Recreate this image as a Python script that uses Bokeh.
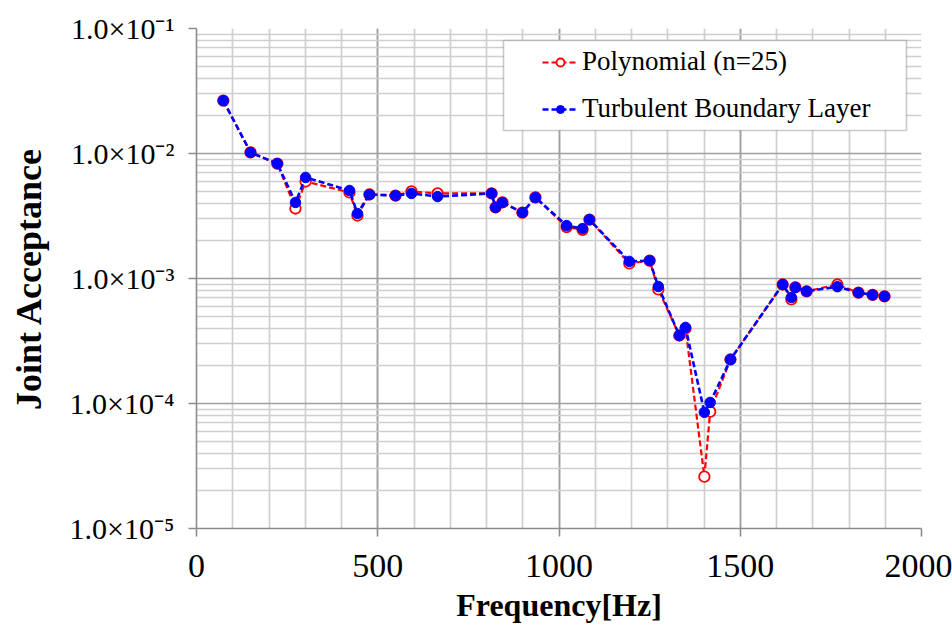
from bokeh.plotting import figure
from bokeh.models import (Range1d, FixedTicker, CustomJSTickFormatter, Legend,
                          LegendItem, BoxAnnotation)
from bokeh.embed import file_html
from bokeh.resources import INLINE

# ---- data ----
freq = [74, 149, 223, 273, 301, 422, 444, 477, 549, 593, 665, 814, 825, 844,
        899, 935, 1021, 1065, 1084, 1194, 1250, 1274, 1332, 1349, 1401, 1417,
        1473, 1617, 1641, 1652, 1683, 1768, 1826, 1865, 1898]
poly = [0.0265, 0.0102, 0.0083, 0.00363, 0.00597, 0.00488, 0.00319, 0.0047,
        0.00461, 0.00497, 0.00479, 0.00479, 0.0037, 0.00406, 0.00337, 0.00445,
        0.00258, 0.00245, 0.00296, 0.00132, 0.00139, 0.000817, 0.00035,
        0.000398, 2.6e-5, 8.6e-5, 2.25e-4, 8.95e-4, 6.8e-4, 8.5e-4, 7.9e-4,
        8.95e-4, 7.7e-4, 7.4e-4, 7.2e-4]
tbl = [0.0265, 0.0102, 0.0083, 0.00406, 0.00643, 0.00506, 0.00331, 0.0047,
       0.00461, 0.00479, 0.00453, 0.00479, 0.0037, 0.00406, 0.00337, 0.00445,
       0.00265, 0.00251, 0.00296, 0.00137, 0.00139, 0.000863, 0.00035,
       0.000406, 8.5e-5, 1.02e-4, 2.25e-4, 8.95e-4, 7.05e-4, 8.5e-4, 7.9e-4,
       8.6e-4, 7.7e-4, 7.4e-4, 7.2e-4]
series_names = ["Polynomial (n=25)", "Turbulent Boundary Layer"]
x_ticks = [0, 500, 1000, 1500, 2000]
x_minor = list(range(0, 2001, 100))
y_ticks = [1e-5, 1e-4, 1e-3, 1e-2, 1e-1]
y_minor = [k * 10.0 ** e for e in range(-5, -1) for k in range(2, 10)]

FONT = "Liberation Serif"

p = figure(width=952, height=627, output_backend="svg", toolbar_location=None,
           x_range=Range1d(0, 2000), y_range=Range1d(1e-5, 1e-1),
           y_axis_type="log", min_border_left=196, min_border_right=31,
           min_border_top=28, min_border_bottom=99)
p.outline_line_color = None
p.background_fill_color = "white"
p.border_fill_color = "white"

xt = FixedTicker(ticks=x_ticks, minor_ticks=x_minor)
yt = FixedTicker(ticks=y_ticks, minor_ticks=y_minor)
p.xaxis.ticker = xt
p.yaxis.ticker = yt
p.xgrid.ticker = xt
p.ygrid.ticker = yt

for g in (p.xgrid, p.ygrid):
    g.grid_line_color = "#a0a0a0"
    g.grid_line_width = 1.7
    g.minor_grid_line_color = "#cfcfcf"
    g.minor_grid_line_width = 1.7

p.yaxis.formatter = CustomJSTickFormatter(code="""
const e = Math.round(Math.log10(tick));
const sup = {'-':'\u207b','0':'\u2070','1':'\u00b9','2':'\u00b2','3':'\u00b3','4':'\u2074','5':'\u2075','6':'\u2076','7':'\u2077','8':'\u2078','9':'\u2079'};
return '1.0\u00d710' + String(e).split('').map(c => sup[c]).join('');
""")

for ax in (p.xaxis, p.yaxis):
    ax.axis_line_color = "#8c8c8c"
    ax.axis_line_width = 1.6
    ax.major_tick_line_color = "#8c8c8c"
    ax.major_tick_line_width = 1.6
    ax.major_tick_out = 8
    ax.major_tick_in = 0
    ax.minor_tick_out = 0
    ax.minor_tick_in = 0
    ax.major_label_text_font = FONT
    ax.major_label_text_color = "black"
    ax.axis_label_text_font = FONT
    ax.axis_label_text_font_style = "bold"
    ax.axis_label_text_color = "black"

p.xaxis.major_label_text_font_size = "34px"
p.yaxis.major_label_text_font_size = "30px"
p.xaxis.major_label_standoff = 18
p.yaxis.major_label_standoff = 14
p.xaxis.axis_label = "Frequency[Hz]"
p.yaxis.axis_label = "Joint Acceptance"
p.xaxis.axis_label_text_font_size = "32px"
p.yaxis.axis_label_text_font_size = "36px"
p.xaxis.axis_label_standoff = 7
p.yaxis.axis_label_standoff = 18

rl = p.line(freq, poly, line_color="#ff0000", line_width=2.2, line_dash="6 3")
rs = p.scatter(freq, poly, size=10.5, marker="circle", line_color="#ff0000",
               line_width=1.8, fill_color="white")
bl = p.line(freq, tbl, line_color="#0000ff", line_width=2.6, line_dash="6 3")
bs = p.scatter(freq, tbl, size=10.5, marker="circle", line_color="#0000ff",
               line_width=1, fill_color="#0000ff")

box = BoxAnnotation(left=307, right=710, top=488, bottom=398,
                    left_units="screen", right_units="screen",
                    top_units="screen", bottom_units="screen",
                    fill_color="white", fill_alpha=1.0,
                    line_color="#4d4d4d", line_width=1.6)
p.add_layout(box)

leg = Legend(items=[LegendItem(label=series_names[0], renderers=[rl, rs]),
                    LegendItem(label=series_names[1], renderers=[bl, bs])],
             location=(340, 398), padding=6, spacing=16, glyph_width=36,
             glyph_height=20, label_height=30, label_standoff=4, margin=0,
             label_text_font=FONT, label_text_font_size="27px",
             label_text_color="black",
             border_line_alpha=0, background_fill_alpha=0)
p.add_layout(leg)

open("out.html", "w").write(file_html(p, INLINE))
